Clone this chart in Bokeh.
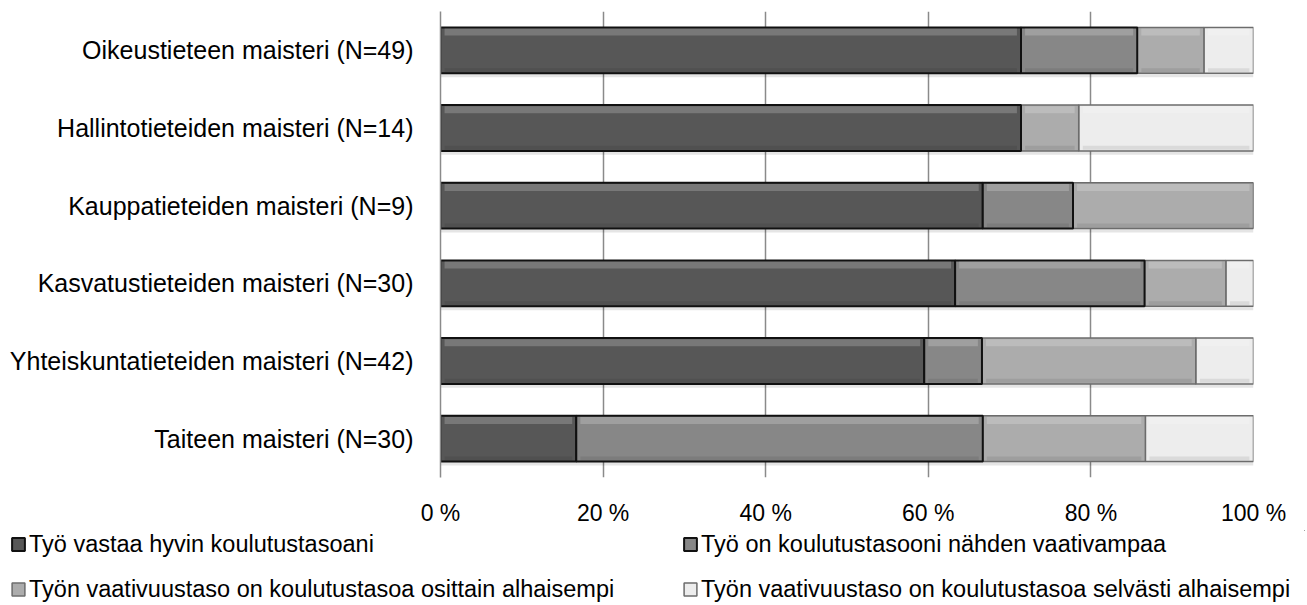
from bokeh.plotting import figure
from bokeh.models import ColumnDataSource, FixedTicker, Legend, LegendItem, Range1d
from bokeh.layouts import column
from bokeh.embed import file_html
from bokeh.resources import INLINE

# ---------------- data ----------------
categories = [
    "Oikeustieteen maisteri (N=49)",
    "Hallintotieteiden maisteri (N=14)",
    "Kauppatieteiden maisteri (N=9)",
    "Kasvatustieteiden maisteri (N=30)",
    "Yhteiskuntatieteiden maisteri (N=42)",
    "Taiteen maisteri (N=30)",
]
series_names = [
    "Työ vastaa hyvin koulutustasoani",
    "Työ on koulutustasooni nähden vaativampaa",
    "Työn vaativuustaso on koulutustasoa osittain alhaisempi",
    "Työn vaativuustaso on koulutustasoa selvästi alhaisempi",
]
vastaa_hyvin = [71.4, 71.4, 66.7, 63.3, 59.5, 16.7]
vaativampaa = [14.3, 0.0, 11.1, 23.3, 7.1, 50.0]
osittain_alhaisempi = [8.2, 7.1, 22.2, 10.0, 26.3, 20.0]
selvasti_alhaisempi = [6.1, 21.5, 0.0, 3.4, 7.1, 13.3]
x_ticks = [0, 20, 40, 60, 80, 100]
x_tick_labels = ["0 %", "20 %", "40 %", "60 %", "80 %", "100 %"]

series = [vastaa_hyvin, vaativampaa, osittain_alhaisempi, selvasti_alhaisempi]

# ---------------- styles ----------------
FONT = "Liberation Sans"
fills = ["#575757", "#878787", "#acacac", "#ededed"]
line_colors = ["#111111", "#111111", "#6c6c6c", "#6c6c6c"]
line_widths = [2, 2, 1.5, 1.5]
BAR_H = 0.59
W = 1305

n = len(categories)
ypos = [n - 1 - i for i in range(n)]

p = figure(
    width=W, height=530,
    output_backend="svg", toolbar_location=None,
    x_range=Range1d(0, 100), y_range=Range1d(-0.5, n - 0.5),
    min_border_left=440, min_border_right=W - 1253,
    min_border_top=11, min_border_bottom=53,
    background_fill_color="white", border_fill_color="white",
)
p.outline_line_color = None
p.frame_align = False

# stacking
lefts, rights = [], []
acc = [0.0] * n
for s in series:
    l = list(acc)
    r = [a + v for a, v in zip(acc, s)]
    lefts.append(l)
    rights.append(r)
    acc = r

# soft shadow under each bar
totals = acc
p.hbar(y=[y - 0.05 for y in ypos], left=[0] * n, right=totals, height=BAR_H,
       fill_color="black", fill_alpha=0.10, line_color=None)

renderers = [None] * 4
for k in [3, 2, 0, 1]:
    src = ColumnDataSource(dict(y=ypos, left=lefts[k], right=rights[k]))
    renderers[k] = p.hbar(y="y", left="left", right="right", height=BAR_H, source=src,
                          fill_color=fills[k], line_color=line_colors[k],
                          line_width=line_widths[k])

# bevel highlights
for k in range(4):
    li, ri = [], []
    for a, b in zip(lefts[k], rights[k]):
        if b - a > 1.2:
            li.append(a + 0.5)
            ri.append(b - 0.5)
        else:
            li.append(a)
            ri.append(a)
    p.hbar(y=[y + BAR_H / 2 - 0.06 for y in ypos], left=li, right=ri, height=0.09,
           fill_color="white", fill_alpha=0.20, line_color=None)
    p.hbar(y=[y - BAR_H / 2 + 0.04 for y in ypos], left=li, right=ri, height=0.05,
           fill_color="black", fill_alpha=0.08, line_color=None)

# axes
p.xaxis.ticker = FixedTicker(ticks=x_ticks)
p.xaxis.major_label_overrides = {t: lab for t, lab in zip(x_ticks, x_tick_labels)}
p.xaxis.axis_line_color = None
p.xaxis.major_tick_line_color = None
p.xaxis.minor_tick_line_color = None
p.xaxis.major_tick_out = 0
p.xaxis.major_label_standoff = 22
p.xaxis.major_label_text_font = FONT
p.xaxis.major_label_text_font_size = "23px"
p.xaxis.major_label_text_color = "black"

p.yaxis.ticker = FixedTicker(ticks=ypos)
p.yaxis.major_label_overrides = {y: c for y, c in zip(ypos, categories)}
p.yaxis.axis_line_color = "#8a8a8a"
p.yaxis.axis_line_width = 1.5
p.yaxis.major_tick_line_color = None
p.yaxis.minor_tick_line_color = None
p.yaxis.major_tick_out = 0
p.yaxis.major_label_standoff = 27
p.yaxis.major_label_text_font = FONT
p.yaxis.major_label_text_font_size = "25px"
p.yaxis.major_label_text_color = "black"

p.xgrid.ticker = FixedTicker(ticks=x_ticks)
p.xgrid.grid_line_color = "#8a8a8a"
p.xgrid.grid_line_width = 1.5
p.ygrid.grid_line_color = None

# ---------------- legend panel ----------------
lp = figure(
    width=W, height=73, output_backend="svg", toolbar_location=None,
    x_range=Range1d(0, 1), y_range=Range1d(0, 1),
    x_axis_location=None, y_axis_location=None,
    min_border_left=0, min_border_right=0, min_border_top=0, min_border_bottom=0,
    background_fill_color="white", border_fill_color="white",
)
lp.outline_line_color = None
lp.grid.visible = False
lp.frame_align = False

# legend swatches: renderers kept outside the visible range of this panel
legend_renderers = []
for k in range(4):
    legend_renderers.append(
        lp.hbar(y=[5], left=[5], right=[6], height=BAR_H,
                fill_color=fills[k], line_color=line_colors[k], line_width=line_widths[k])
    )


def make_legend(idx, loc):
    return Legend(
        items=[LegendItem(label=series_names[i], renderers=[legend_renderers[i]]) for i in idx],
        location=loc, orientation="vertical",
        glyph_width=16, glyph_height=16, label_standoff=3,
        label_text_font=FONT, label_text_font_size="23.5px", label_text_color="black",
        label_height=28, spacing=17, padding=0, margin=0,
        border_line_color=None, background_fill_alpha=0,
    )


lp.add_layout(make_legend([0, 2], (10, 0)))
lp.add_layout(make_legend([1, 3], (682, 0)))

layout = column(p, lp, spacing=0)
open("out.html", "w").write(file_html(layout, INLINE))
